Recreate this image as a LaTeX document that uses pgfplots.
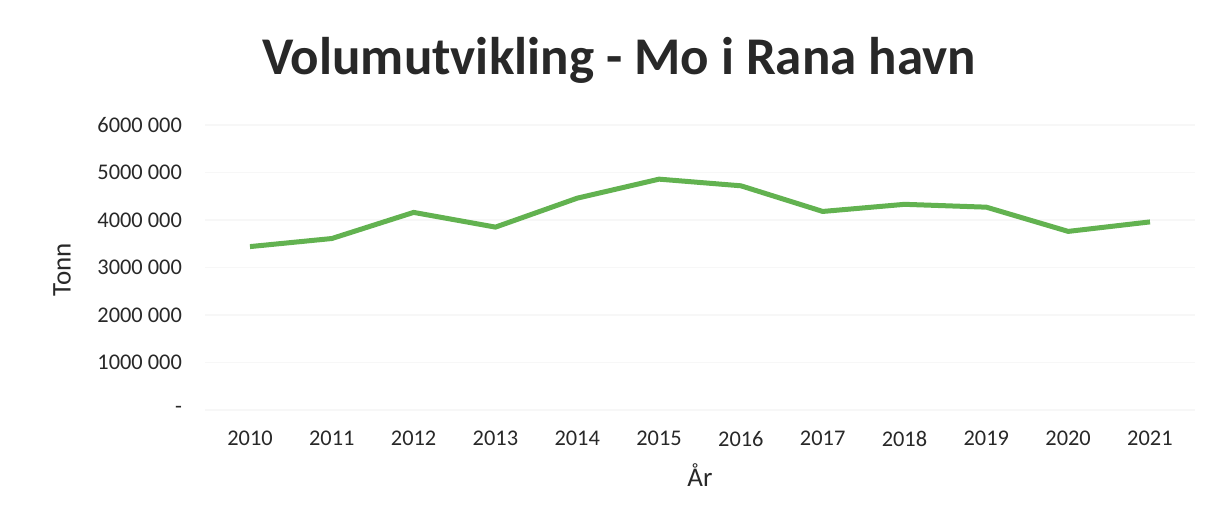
\documentclass[border=0pt]{standalone}
\usepackage{pgfplots}
\pgfplotsset{compat=1.18}
\usepackage{fontspec}
\setmainfont{Carlito}
\definecolor{lgreen}{RGB}{98,178,80}
\definecolor{txt}{RGB}{40,40,40}
\begin{document}
\begin{tikzpicture}
\path (-102.5pt,-53.5pt) rectangle (507.5pt,205pt);
\begin{axis}[
  at={(0,0)}, anchor=south west,
  scale only axis, width=495pt, height=142.5pt,
  xmin=2009.45, xmax=2021.55,
  ymin=0, ymax=6000000,
  scaled y ticks=false,
  axis line style={draw=none},
  tick style={draw=none},
  xtick={2010,...,2021},
  xticklabels={2010,2011,2012,2013,2014,2015,2016,2017,2018,2019,2020,2021},
  ytick={0,1000000,2000000,3000000,4000000,5000000,6000000},
  yticklabels={-,1000 000,2000 000,3000 000,4000 000,5000 000,6000 000},
  /pgf/number format/assume math mode=true,
  ymajorgrids, grid style={draw=black!3, line width=0.6pt},
  ticklabel style={font=\fontsize{11.2}{13}\selectfont, text=txt},
  yticklabel style={xshift=-8pt},
  xticklabel style={yshift=-7pt},
  clip=false,
]
\addplot[lgreen, line width=2.5pt, line join=round] coordinates {
(2010,3440000) (2011,3610000) (2012,4160000) (2013,3850000)
(2014,4460000) (2015,4860000) (2016,4720000) (2017,4180000)
(2018,4330000) (2019,4270000) (2020,3760000) (2021,3960000)
};
\end{axis}
\node[font=\fontsize{26.5}{30}\selectfont\bfseries, text=txt] at (207pt,175pt) {Volumutvikling - Mo i Rana havn};
\node[font=\fontsize{13.5}{15}\selectfont, text=txt, rotate=90] at (-71.5pt,70pt) {Tonn};
\node[font=\fontsize{13.5}{15}\selectfont, text=txt] at (247.5pt,-32.5pt) {År};
\end{tikzpicture}
\end{document}
